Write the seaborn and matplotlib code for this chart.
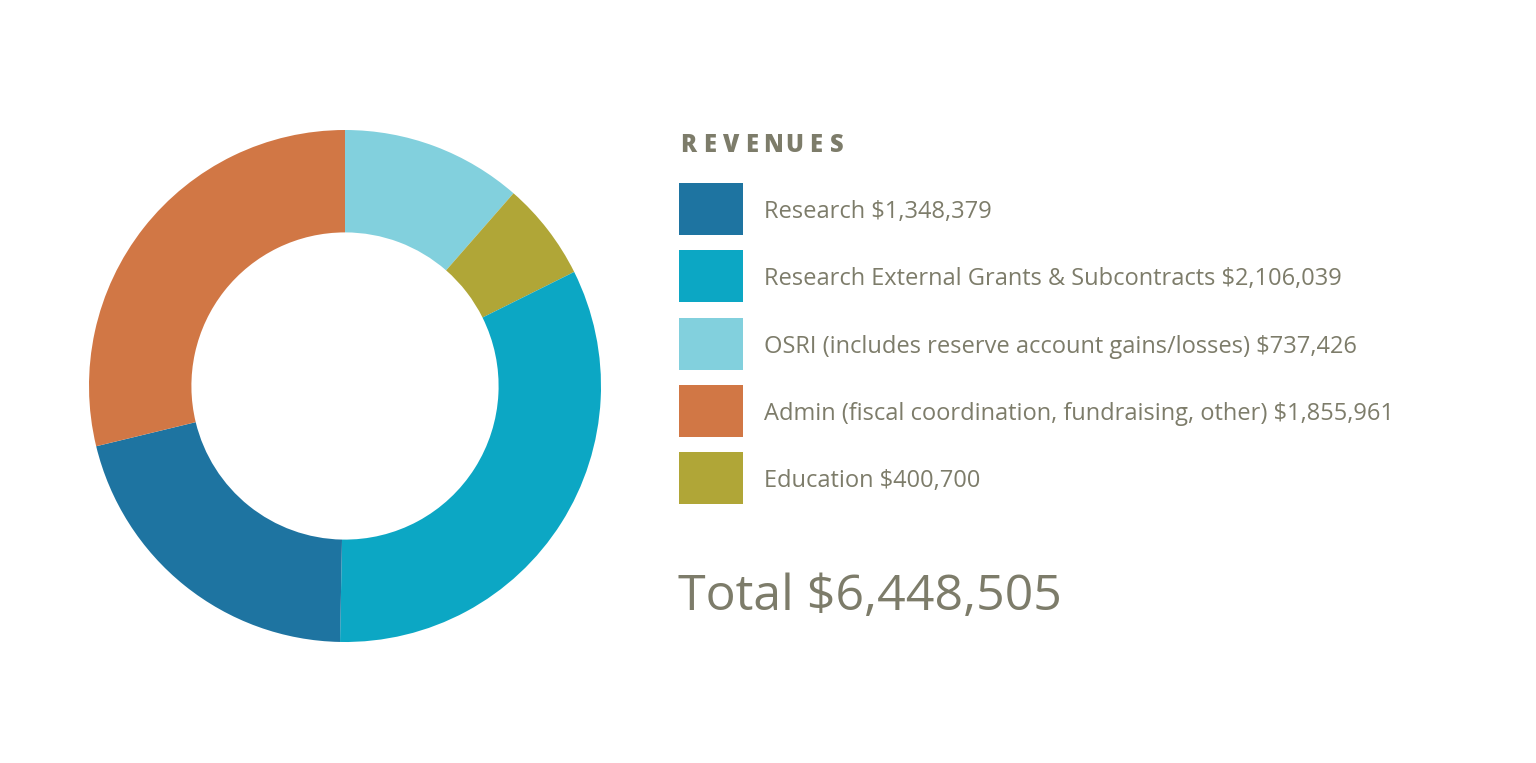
import matplotlib
matplotlib.use("Agg")
import matplotlib.pyplot as plt
import seaborn as sns

# Data
categories = ["Research", "Research External Grants & Subcontracts",
              "OSRI (includes reserve account gains/losses)",
              "Admin (fiscal coordination, fundraising, other)", "Education"]
values = [1348379, 2106039, 737426, 1855961, 400700]
colors = ["#1e74a1", "#0ca7c4", "#82d0dd", "#d17745", "#b0a637"]

# clockwise order of the slices, starting at 12 o'clock
pie_order = [2, 4, 1, 0, 3]

sns.set_theme(style="white")
plt.rcParams["font.family"] = ["Open Sans", "DejaVu Sans"]
text_color = "#7d7c6a"

W, H = 1536, 763
fig = plt.figure(figsize=(W / 100, H / 100), dpi=100)
fig.patch.set_facecolor("white")

def fx(px):
    return px / W

def fy(py):
    return 1 - py / H

# Donut
cx, cy, r = 345, 386, 256
ax = fig.add_axes([fx(cx - r), fy(cy + r), 2 * r / W, 2 * r / H])
ax.pie([values[i] for i in pie_order], colors=[colors[i] for i in pie_order],
       startangle=90, counterclock=False, radius=1,
       wedgeprops=dict(width=0.4, linewidth=0))
ax.set_xlim(-1, 1)
ax.set_ylim(-1, 1)
ax.set_aspect("auto")
ax.axis("off")

# Legend header, letter-spaced
header = "REVENUES"
for k, ch in enumerate(header):
    fig.text(fx(688 + k * 21.3), fy(145), ch, fontsize=17, fontweight="heavy",
             color=text_color, va="center", ha="center")

# Legend rows
for i, (cat, val) in enumerate(zip(categories, values)):
    top = 183 + i * 67.3
    fig.patches.append(plt.Rectangle((fx(679), fy(top + 52)), 64 / W, 52 / H,
                                     transform=fig.transFigure,
                                     facecolor=colors[i], edgecolor="none"))
    fig.text(fx(764), fy(top + 29), f"{cat} ${val:,}", fontsize=17,
             color=text_color, va="center", ha="left")

total = sum(values)
fig.text(fx(678), fy(597), f"Total ${total:,}", fontsize=36,
         color=text_color, va="center", ha="left")

fig.savefig("out.png", dpi=100, facecolor="white")
